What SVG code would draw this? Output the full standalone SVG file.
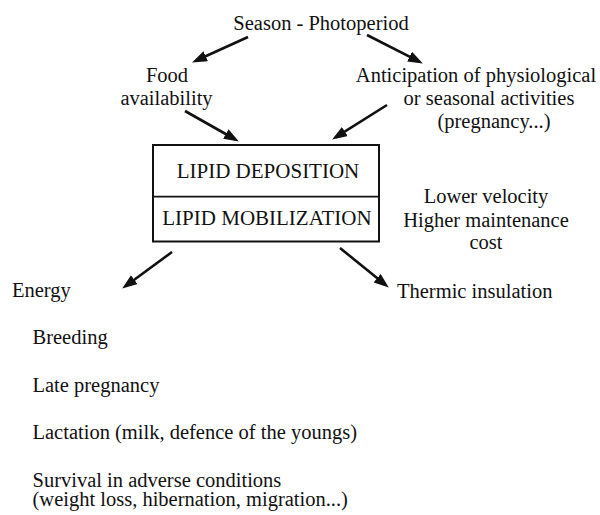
<svg xmlns="http://www.w3.org/2000/svg" width="600" height="515" viewBox="0 0 600 515">
<style>
text{font-family:"Liberation Serif","Times New Roman",serif;font-size:20.5px;fill:#111}
.c{text-anchor:middle}
.box{font-size:21px}
.arr{stroke:#111;stroke-width:2.6;fill:none;marker-end:url(#ah)}
</style>
<defs>
<marker id="ah" markerUnits="userSpaceOnUse" markerWidth="16" markerHeight="12" refX="11" refY="5.5" orient="auto">
<path d="M0,0 L15,5.5 L0,11 z" fill="#111"/>
</marker>
</defs>
<rect width="600" height="515" fill="#fff"/>
<g id="season"><text class="c" x="321" y="29.5">Season - Photoperiod</text></g>
<g id="food"><text class="c" x="167" y="82">Food</text><text class="c" x="166.5" y="105">availability</text></g>
<g id="anticipation"><text class="c" x="476" y="82">Anticipation of physiological</text><text class="c" x="489" y="105">or seasonal activities</text><text class="c" x="494" y="128">(pregnancy...)</text></g>
<g id="lipid">
<rect x="153" y="145" width="226" height="96.5" fill="none" stroke="#111" stroke-width="2"/>
<line x1="153" y1="196.7" x2="379" y2="196.7" stroke="#111" stroke-width="1.8"/>
<text class="c box" x="268" y="178">LIPID DEPOSITION</text>
<text class="c box" x="267" y="225">LIPID MOBILIZATION</text>
</g>
<g id="cost"><text class="c" x="486" y="203">Lower velocity</text><text class="c" x="486" y="226.5">Higher maintenance</text><text class="c" x="486" y="249">cost</text></g>
<g id="energy"><text x="12" y="296.5">Energy</text></g>
<g id="insulation"><text x="397" y="298">Thermic insulation</text></g>
<g id="uses">
<text x="32.5" y="344">Breeding</text>
<text x="32.5" y="391.5">Late pregnancy</text>
<text x="32.5" y="439">Lactation (milk, defence of the youngs)</text>
<text x="32.5" y="486.5">Survival in adverse conditions</text>
<text x="32.5" y="505.5">(weight loss, hibernation, migration...)</text>
</g>
<g id="connectors">
<line class="arr" x1="248" y1="37" x2="195.7" y2="60.8"/>
<line class="arr" x1="367" y1="35" x2="419.3" y2="61.6"/>
<line class="arr" x1="185" y1="111" x2="235.4" y2="139.5"/>
<line class="arr" x1="387" y1="105" x2="335.5" y2="137.4"/>
<line class="arr" x1="172" y1="252" x2="125.4" y2="286.2"/>
<line class="arr" x1="340" y1="248" x2="385.7" y2="285.1"/>
</g>
</svg>
